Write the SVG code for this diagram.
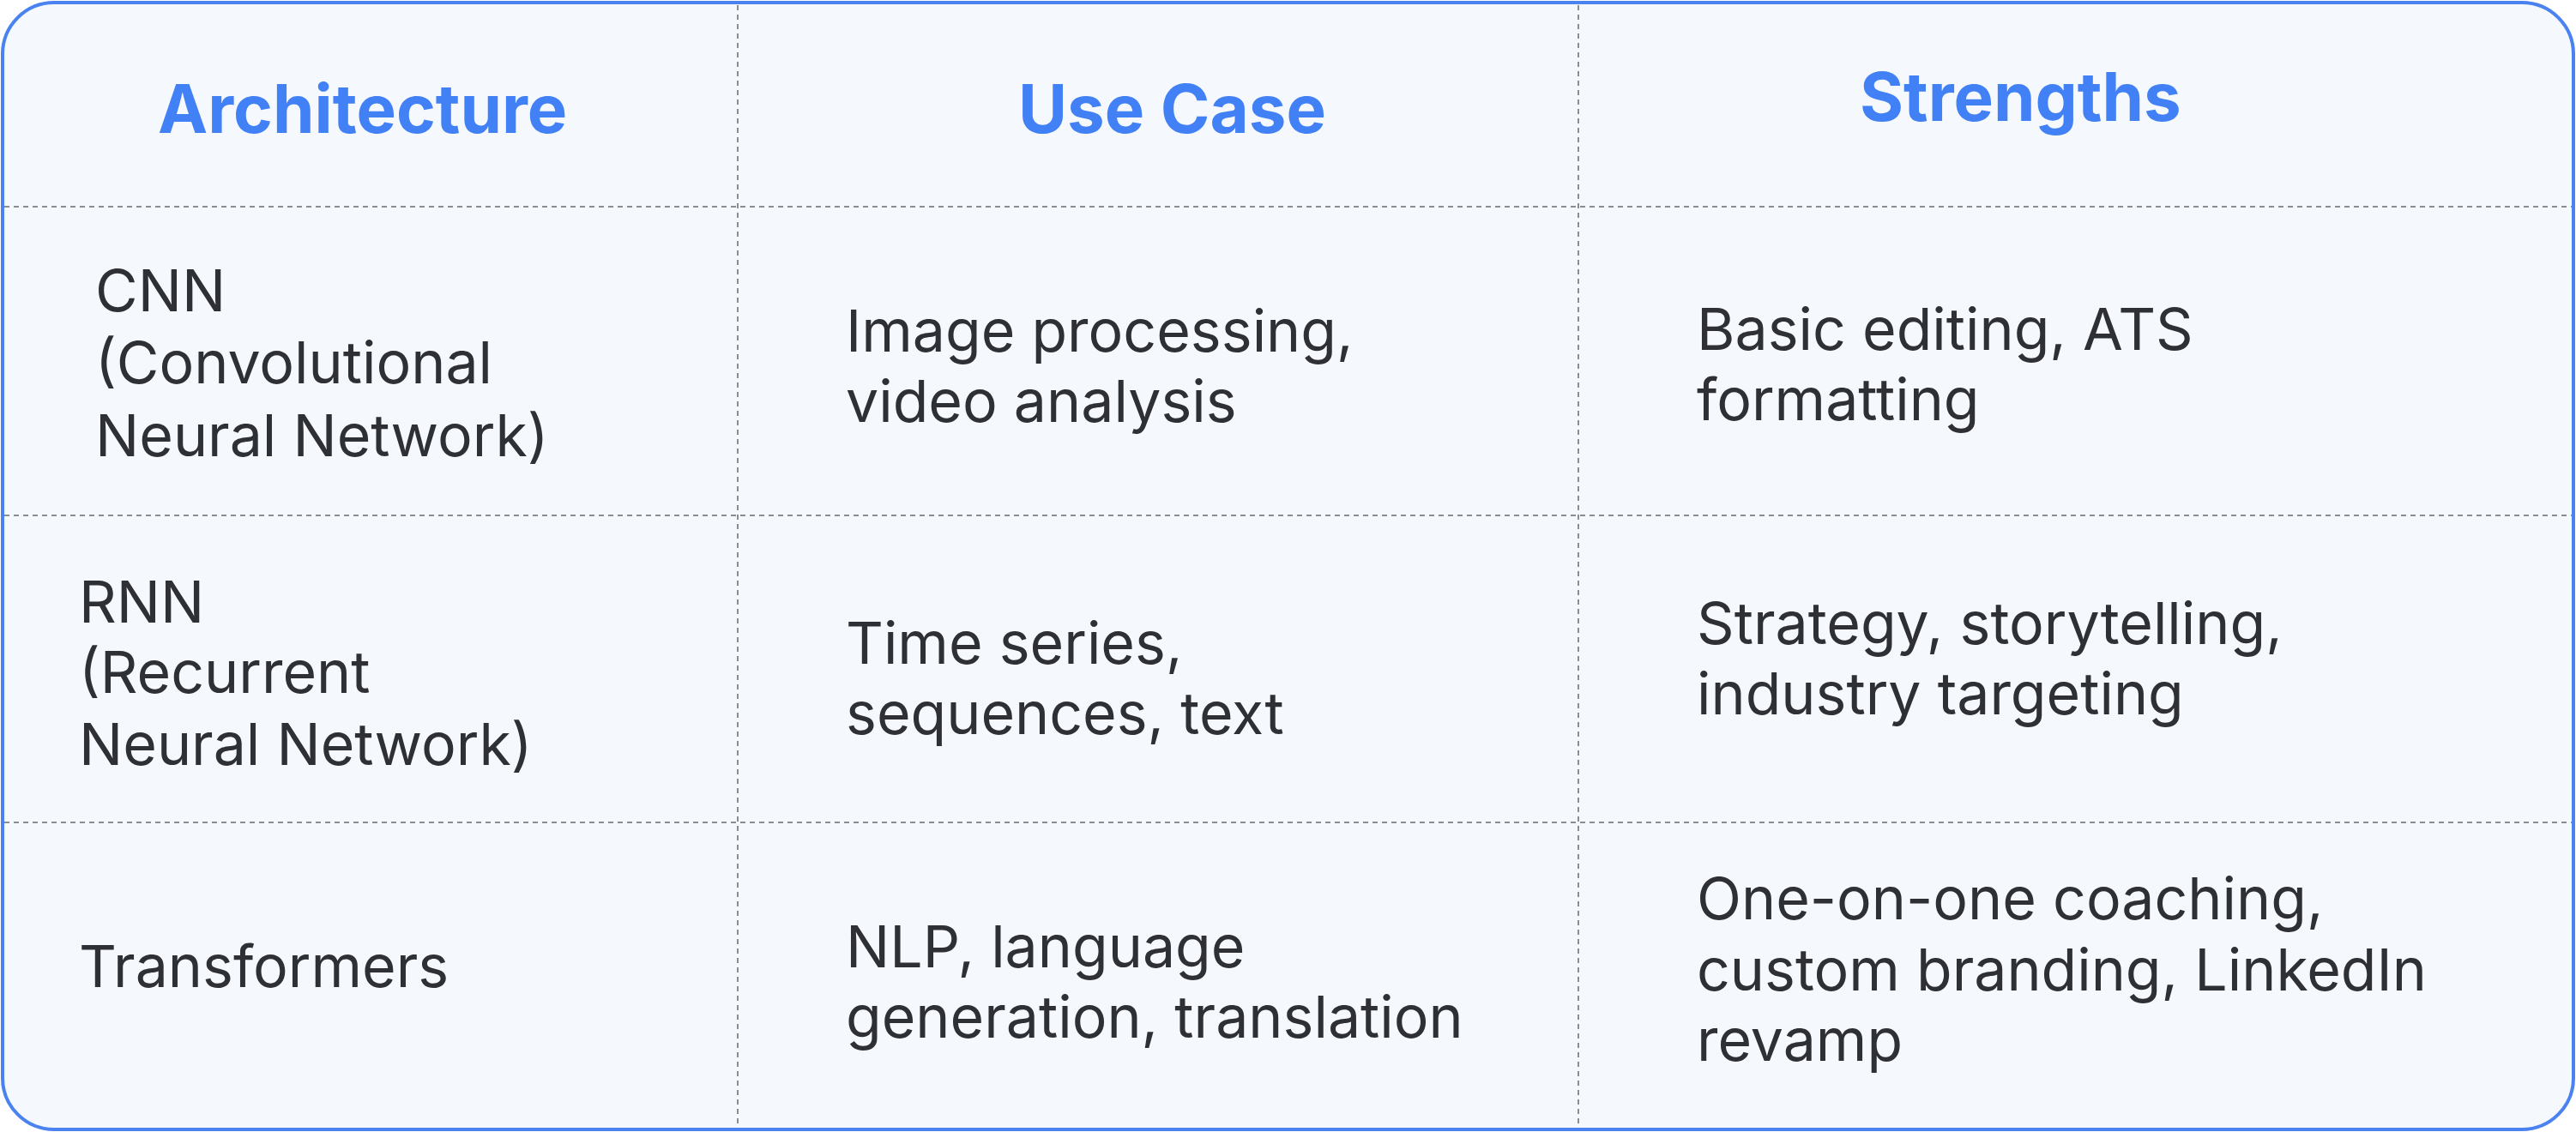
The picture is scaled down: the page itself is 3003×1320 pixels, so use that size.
<svg xmlns="http://www.w3.org/2000/svg" width="3003" height="1320" viewBox="0 0 3003 1320">
<style>
.h{font-family:Inter,"Liberation Sans",sans-serif;font-weight:700;font-size:78px;fill:#4180f5}
.t{font-family:Inter,"Liberation Sans",sans-serif;font-size:68px;fill:#2e3035}
.d{stroke:#8a8d93;stroke-width:2;stroke-dasharray:6 5;fill:none}
</style>
<rect width="3003" height="1320" fill="#ffffff"/>
<rect x="3" y="3" width="2997" height="1314" rx="60" fill="#f5f8fd" stroke="#4a82f0" stroke-width="4"/>
<g id="grid">
<line class="d" x1="860" y1="6" x2="860" y2="1314"/>
<line class="d" x1="1840" y1="6" x2="1840" y2="1314"/>
<line class="d" x1="5" y1="241" x2="2998" y2="241"/>
<line class="d" x1="5" y1="601" x2="2998" y2="601"/>
<line class="d" x1="5" y1="959" x2="2998" y2="959"/>
</g>
<g id="header">
<text class="h" x="184" y="155">Architecture</text>
<text class="h" x="1187" y="155">Use Case</text>
<text class="h" x="2168" y="141">Strengths</text>
</g>
<g id="row1">
<text class="t" x="111" y="363">CNN</text>
<text class="t" x="111" y="447">(Convolutional</text>
<text class="t" x="111" y="532">Neural Network)</text>
<text class="t" x="986" y="410">Image processing,</text>
<text class="t" x="986" y="492">video analysis</text>
<text class="t" x="1978" y="408">Basic editing, ATS</text>
<text class="t" x="1978" y="490">formatting</text>
</g>
<g id="row2">
<text class="t" x="92" y="726">RNN</text>
<text class="t" x="92" y="808">(Recurrent</text>
<text class="t" x="92" y="892">Neural Network)</text>
<text class="t" x="986" y="774">Time series,</text>
<text class="t" x="986" y="856">sequences, text</text>
<text class="t" x="1978" y="751">Strategy, storytelling,</text>
<text class="t" x="1978" y="833">industry targeting</text>
</g>
<g id="row3">
<text class="t" x="92" y="1151">Transformers</text>
<text class="t" x="986" y="1128">NLP, language</text>
<text class="t" x="986" y="1210">generation, translation</text>
<text class="t" x="1978" y="1072">One-on-one coaching,</text>
<text class="t" x="1978" y="1155">custom branding, LinkedIn</text>
<text class="t" x="1978" y="1237">revamp</text>
</g>
</svg>
